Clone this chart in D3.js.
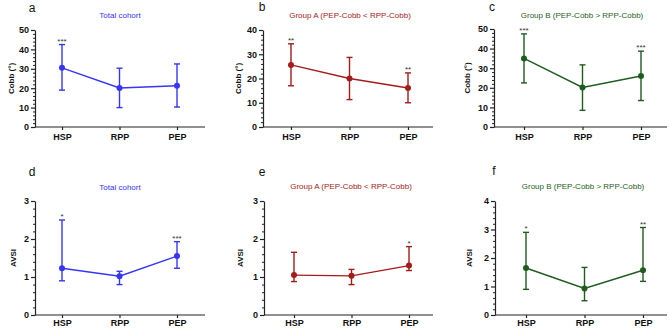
<!DOCTYPE html>
<html><head><meta charset="utf-8">
<script src="https://cdn.jsdelivr.net/npm/d3@7"></script>
<style>
body{margin:0;background:#fff;}
svg{display:block;font-family:"Liberation Sans",Arial,sans-serif;}
</style></head>
<body><svg id="c" width="669" height="328"></svg>
<script>
const categories = ["HSP","RPP","PEP"];

// Cobb angle (°): mean, lower and upper error limits
const cobbTotalMean = [30.5, 20.1, 21.3];
const cobbTotalLow  = [19.0, 10.0, 10.3];
const cobbTotalHigh = [42.5, 30.3, 32.5];
const cobbTotalSig  = ["***", "", ""];

const cobbAMean = [25.6, 20.0, 16.1];
const cobbALow  = [17.0, 11.3, 10.0];
const cobbAHigh = [34.3, 28.7, 22.3];
const cobbASig  = ["**", "", "**"];

const cobbBMean = [35.0, 20.2, 26.0];
const cobbBLow  = [22.5, 8.5, 13.5];
const cobbBHigh = [47.5, 31.7, 38.7];
const cobbBSig  = ["***", "", "***"];

// AVSI: mean, lower and upper error limits
const avsiTotalMean = [1.23, 1.02, 1.55];
const avsiTotalLow  = [0.90, 0.80, 1.23];
const avsiTotalHigh = [2.50, 1.15, 1.93];
const avsiTotalSig  = ["*", "", "***"];

const avsiAMean = [1.05, 1.03, 1.30];
const avsiALow  = [0.88, 0.80, 1.17];
const avsiAHigh = [1.65, 1.20, 1.80];
const avsiASig  = ["", "", "*"];

const avsiBMean = [1.65, 0.93, 1.57];
const avsiBLow  = [0.90, 0.50, 1.18];
const avsiBHigh = [2.90, 1.67, 3.07];
const avsiBSig  = ["*", "", "**"];

const cobbTicks3 = [0,10,20,30,40];
const cobbTicks5 = [0,10,20,30,40,50];
const avsiTicks3 = [0,1,2,3];
const avsiTicks4 = [0,1,2,3,4];

const titles = ["Total cohort","Group A (PEP-Cobb < RPP-Cobb)","Group B (PEP-Cobb > RPP-Cobb)"];
const letters = ["a","b","c","d","e","f"];
const colors = ["#3535f8","#a31c1c","#1f5c1f"];

const panels = [
  {L:letters[0], title:titles[0], col:colors[0], ylab:"Cobb (°)", mean:cobbTotalMean, lo:cobbTotalLow, hi:cobbTotalHigh, sig:cobbTotalSig, ticks:cobbTicks5, minor:2,
   ax:35, axEnd:205, c0:62, c1:177, yT:30, yB:127, pad:4, ylx:11, lx:32, ly:12, tx:120, ty:18},
  {L:letters[1], title:titles[1], col:colors[1], ylab:"Cobb (°)", mean:cobbAMean, lo:cobbALow, hi:cobbAHigh, sig:cobbASig, ticks:cobbTicks3, minor:2,
   ax:263, axEnd:433, c0:291, c1:408, yT:30, yB:127, pad:4, ylx:238, lx:262, ly:11, tx:350, ty:18},
  {L:letters[2], title:titles[2], col:colors[2], ylab:"Cobb (°)", mean:cobbBMean, lo:cobbBLow, hi:cobbBHigh, sig:cobbBSig, ticks:cobbTicks5, minor:2,
   ax:494, axEnd:667, c0:524, c1:641, yT:29, yB:127, pad:4, ylx:467, lx:492, ly:11, tx:582, ty:18},
  {L:letters[3], title:titles[0], col:colors[0], ylab:"AVSI", mean:avsiTotalMean, lo:avsiTotalLow, hi:avsiTotalHigh, sig:avsiTotalSig, ticks:avsiTicks3, minor:0.2,
   ax:35, axEnd:205, c0:62, c1:177, yT:201, yB:315, pad:2, ylx:13, lx:32, ly:176, tx:120, ty:190},
  {L:letters[4], title:titles[1], col:colors[1], ylab:"AVSI", mean:avsiAMean, lo:avsiALow, hi:avsiAHigh, sig:avsiASig, ticks:avsiTicks3, minor:0.2,
   ax:264, axEnd:433, c0:294, c1:409, yT:201, yB:315, pad:2, ylx:240, lx:262, ly:176, tx:351, ty:189},
  {L:letters[5], title:titles[2], col:colors[2], ylab:"AVSI", mean:avsiBMean, lo:avsiBLow, hi:avsiBHigh, sig:avsiBSig, ticks:avsiTicks4, minor:0.2,
   ax:495, axEnd:667, c0:526, c1:643, yT:201, yB:315, pad:2, ylx:469, lx:494, ly:175, tx:583, ty:189}
];

const svg = d3.select("#c");

panels.forEach(p => {
  const g = svg.append("g");
  const x = d3.scalePoint().domain(categories).range([p.c0, p.c1]);
  const ymax = p.ticks[p.ticks.length-1];
  const y = d3.scaleLinear().domain([0, ymax]).range([p.yB, p.yT]);

  // minor ticks
  const minorVals = d3.range(0, ymax + p.minor/2, p.minor).filter(v => !p.ticks.some(t => Math.abs(t - v) < 1e-6));
  g.append("g").attr("transform", `translate(${p.ax},0)`)
    .call(d3.axisLeft(y).tickValues(minorVals).tickSize(2).tickFormat(""))
    .call(a => a.select(".domain").remove())
    .call(a => a.selectAll("line").attr("stroke", "#222").attr("stroke-width", 1));

  // major y axis
  g.append("g").attr("transform", `translate(${p.ax},0)`)
    .call(d3.axisLeft(y).tickValues(p.ticks).tickSize(4).tickPadding(2).tickSizeOuter(0).tickFormat(d3.format("d")))
    .call(a => a.select(".domain").attr("stroke", "#222").attr("stroke-width", 1.2))
    .call(a => a.selectAll("line").attr("stroke", "#222").attr("stroke-width", 1.2))
    .call(a => a.selectAll("text").attr("font-size", 9).attr("font-weight", "bold").attr("fill", "#111"));

  // x axis
  g.append("line").attr("x1", p.ax).attr("x2", p.axEnd).attr("y1", p.yB).attr("y2", p.yB)
    .attr("stroke", "#222").attr("stroke-width", 1.2);
  g.append("g").attr("transform", `translate(0,${p.yB})`)
    .call(d3.axisBottom(x).tickSize(3).tickPadding(p.pad))
    .call(a => a.select(".domain").remove())
    .call(a => a.selectAll("line").attr("stroke", "#222").attr("stroke-width", 1.2))
    .call(a => a.selectAll("text").attr("font-size", 9).attr("font-weight", "bold").attr("fill", "#111"));

  // y label
  g.append("text").attr("transform", `translate(${p.ylx},${(p.yT+p.yB)/2}) rotate(-90)`)
    .attr("text-anchor", "middle").attr("dy", "0.35em")
    .attr("font-size", 8).attr("font-weight", "bold").attr("fill", "#111").text(p.ylab);

  // title & letter
  g.append("text").attr("x", p.tx).attr("y", p.ty).attr("text-anchor", "middle")
    .attr("font-size", 8).attr("fill", p.col).text(p.title);
  g.append("text").attr("x", p.lx).attr("y", p.ly).attr("text-anchor", "middle")
    .attr("font-size", 12).attr("fill", "#111").text(p.L);

  const d = categories.map((c, i) => ({c, m: p.mean[i], lo: p.lo[i], hi: p.hi[i], s: p.sig[i]}));

  // error bars
  g.selectAll(".eb").data(d).join("line")
    .attr("x1", e => x(e.c)).attr("x2", e => x(e.c))
    .attr("y1", e => y(e.lo)).attr("y2", e => y(e.hi))
    .attr("stroke", p.col).attr("stroke-width", 1.4);
  ["lo","hi"].forEach(k => {
    g.selectAll(".cap"+k).data(d).join("line")
      .attr("x1", e => x(e.c) - 3).attr("x2", e => x(e.c) + 3)
      .attr("y1", e => y(e[k])).attr("y2", e => y(e[k]))
      .attr("stroke", p.col).attr("stroke-width", 1.4);
  });

  // line
  g.append("path").datum(d)
    .attr("d", d3.line().x(e => x(e.c)).y(e => y(e.m)))
    .attr("fill", "none").attr("stroke", p.col).attr("stroke-width", 1.4);

  // points
  g.selectAll(".pt").data(d).join("circle")
    .attr("cx", e => x(e.c)).attr("cy", e => y(e.m)).attr("r", 3)
    .attr("fill", p.col);

  // significance
  g.selectAll(".sig").data(d.filter(e => e.s)).join("text")
    .attr("x", e => x(e.c)).attr("y", e => y(e.hi) - 1)
    .attr("text-anchor", "middle").attr("font-size", 8).attr("fill", "#333").text(e => e.s);
});
</script></body></html>
